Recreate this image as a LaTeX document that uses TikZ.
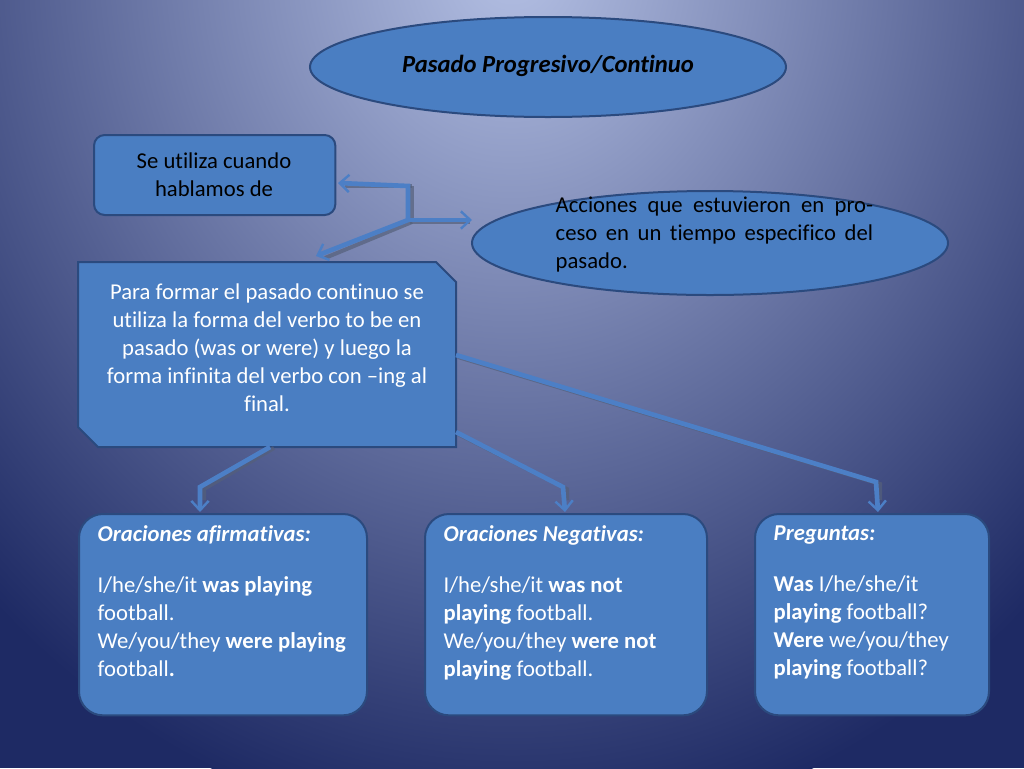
\documentclass[tikz,border=0pt]{standalone}
\usepackage{fontspec}
\setmainfont{Carlito}[Ligatures=NoCommon]
\usetikzlibrary{arrows.meta,shapes.geometric}
\definecolor{nodeb}{HTML}{4A7EC2}
\definecolor{edgeb}{HTML}{2B4A7E}
\definecolor{conb}{HTML}{4C7FC6}
\definecolor{shad}{HTML}{55607A}
\begin{document}
\begin{tikzpicture}[x=0.75pt,y=-0.75pt,
  shp/.style={fill=nodeb,draw=edgeb,line width=1.5pt},
  txt/.style={font=\fontsize{17}{21}\selectfont},
  con/.style={draw=conb,line width=3.5pt,-{Straight Barb[length=7pt,width=13pt,line width=1.8pt]}},
  cshad/.style={draw=shad,line width=3pt,opacity=0.7}]
\useasboundingbox (0,0) rectangle (1024,768);
\fill[color={rgb,255:red,30;green,42;blue,100}] (0,0) rectangle (1024,768);
\begin{scope}
\clip (0,0) rectangle (1024,768);
\shade[inner color={rgb,255:red,180;green,192;blue,228},outer color={rgb,255:red,30;green,42;blue,100}] (512,-40) ellipse (760 and 880);
\end{scope}
% title
\node[shp,ellipse,minimum width=357pt,minimum height=75pt] (title) at (548,67) {};
\node[font=\fontsize{18.5}{22}\selectfont\bfseries\itshape] (tt) at (548,66) {Pasado Progresivo/Continuo};
% se utiliza
\node[shp,rounded corners=8pt,minimum width=181pt,minimum height=60pt,anchor=north west] (se) at (93,134) {};
\node[txt,align=center,anchor=north] (set) at (214,148) {Se utiliza cuando\\hablamos de};
% acciones
\node[shp,ellipse,minimum width=357pt,minimum height=78pt] (acc) at (710,243) {};
\node[txt,text width=238pt,align=justify,anchor=north west] (acct) at (551,192) {\hyphenpenalty=10000\exhyphenpenalty=10000 Acciones que estuvieron en proceso en un tiempo especifico del pasado.};
% folded box
\path[shp] (78,262) -- (436,262) -- (456,282) -- (456,447) -- (98,447) -- (78,427) -- cycle;
\coordinate (fb) at (270,447);
\node[txt,text=white,align=center] (fold) at (267,348) {Para formar el pasado continuo se\\utiliza la forma del verbo to be en\\pasado (was or were) y luego la\\forma infinita del verbo con --ing al\\final.};
% bottom boxes
\node[shp,rounded corners=18pt,minimum width=216pt,minimum height=151pt,anchor=north west] (b1) at (78,513) {};
\node[shp,rounded corners=18pt,minimum width=211.5pt,minimum height=151pt,anchor=north west] (b2) at (424,513) {};
\node[shp,rounded corners=18pt,minimum width=175.5pt,minimum height=151pt,anchor=north west] (b3) at (754,513) {};
\node[txt,text=white,anchor=north west,align=left] (t1) at (93,521) {\textbf{\textit{Oraciones afirmativas:}}\\[17pt]I/he/she/it \textbf{was playing}\\football.\\We/you/they \textbf{were playing}\\football\textbf{.}};
\node[txt,text=white,anchor=north west,align=left] (t2) at (439,521) {\textbf{\textit{Oraciones Negativas:}}\\[17pt]I/he/she/it \textbf{was not}\\\textbf{playing} football.\\We/you/they \textbf{were not}\\\textbf{playing} football.};
\node[txt,text=white,anchor=north west,align=left] (t3) at (769,521) {\textbf{\textit{Preguntas:}}\\[17pt]\textbf{Was} I/he/she/it\\\textbf{playing} football?\\\textbf{Were} we/you/they\\\textbf{playing} football?};
% connectors
\coordinate (j) at (408,186);
\coordinate (j2) at (408,220);
\coordinate (a1) at (338,183);
\coordinate (a2) at (472,220);
\coordinate (a3) at (316,256);
\draw[cshad] (412,186) -- (412,222) -- (470,222);
\draw[cshad] (412,222) -- (325,258);
\draw[cshad] (412,186) -- (345,186);
\draw[con] (j2) -- (j) -- (a1);
\draw[con] (j2) -- (a2);
\draw[con] (j2) -- (a3);
\coordinate (p1) at (200,487);
\coordinate (p2) at (563,487);
\coordinate (p3) at (876,482);
\coordinate (d1) at (200,512);
\coordinate (d2) at (565,512);
\coordinate (d3) at (878,512);
\coordinate (s2) at (456,432);
\coordinate (s3) at (456,355);
\draw[cshad] (274,448) -- (204,489) -- (204,500);
\draw[cshad] (458,434) -- (567,489) -- (567,500);
\draw[cshad] (458,357) -- (880,484) -- (880,500);
\draw[con] (fb) -- (p1) -- (d1);
\draw[con] (s2) -- (p2) -- (d2);
\draw[con] (s3) -- (p3) -- (d3);
\end{tikzpicture}
\end{document}
